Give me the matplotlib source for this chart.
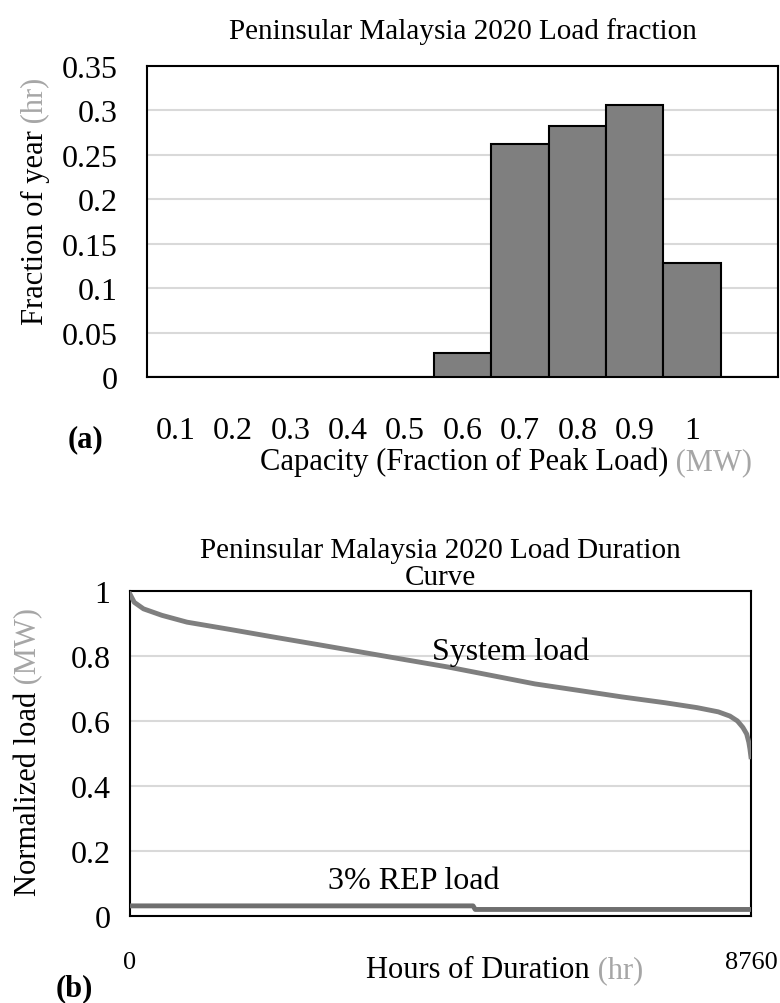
import matplotlib
matplotlib.use('Agg')
import matplotlib.pyplot as plt

plt.rcParams['font.family'] = ['Liberation Serif', 'DejaVu Serif']

# (a) load fraction histogram
capacidade = ['0.1', '0.2', '0.3', '0.4', '0.5', '0.6', '0.7', '0.8', '0.9', '1', '']
fracao_ano = [0, 0, 0, 0, 0, 0.027, 0.262, 0.283, 0.306, 0.128, 0]
y_ticks_a = [0, 0.05, 0.1, 0.15, 0.2, 0.25, 0.3, 0.35]
y_labels_a = ['0', '0.05', '0.1', '0.15', '0.2', '0.25', '0.3', '0.35']

# (b) load duration curve
horas_sistema = [0, 60, 190, 450, 804, 1400, 2031, 2650, 3259, 3870, 4486, 5100,
                 5713, 6330, 6940, 7550, 8000, 8300, 8464, 8570, 8647, 8700, 8730,
                 8746, 8760]
carga_sistema = [0.99, 0.965, 0.945, 0.925, 0.904, 0.882, 0.858, 0.835, 0.812, 0.789,
                 0.766, 0.740, 0.714, 0.694, 0.674, 0.656, 0.641, 0.628, 0.615, 0.600,
                 0.580, 0.560, 0.535, 0.514, 0.49]
horas_rep = [0, 4840, 4870, 8760]
carga_rep = [0.031, 0.031, 0.02, 0.02]
y_ticks_b = [0, 0.2, 0.4, 0.6, 0.8, 1]
y_labels_b = ['0', '0.2', '0.4', '0.6', '0.8', '1']

CINZA = '#7f7f7f'
CINZA_CLARO = '#a6a6a6'
GRADE = '#d9d9d9'

fig = plt.figure(figsize=(7.8, 10.04), dpi=100)


def label_duas_cores(fig, texto, unidade, eixo, pos, size):
    # rótulo com a unidade em cinza claro
    if eixo == 'x':
        fig.text(pos[0], pos[1], texto, ha='right', va='baseline', fontsize=size)
        fig.text(pos[0], pos[1], ' ' + unidade, ha='left', va='baseline', fontsize=size,
                 color=CINZA_CLARO)
    else:
        fig.text(pos[0], pos[1], texto, ha='center', va='top', rotation=90, fontsize=size)
        fig.text(pos[0], pos[1], ' ' + unidade, ha='center', va='bottom', rotation=90,
                 fontsize=size, color=CINZA_CLARO)


# ---------- (a) ----------
ax1 = fig.add_axes([0.1885, 0.6235, 0.809, 0.3098])
x = range(len(capacidade))
ax1.bar(x, fracao_ano, width=1.0, color=CINZA, edgecolor='black', linewidth=1.5, zorder=3)
ax1.set_xlim(-0.5, len(capacidade) - 0.5)
ax1.set_ylim(0, 0.35)
ax1.set_yticks(y_ticks_a)
ax1.set_yticklabels(y_labels_a, fontsize=23)
ax1.set_xticks(list(x))
ax1.set_xticklabels(capacidade, fontsize=23)
ax1.tick_params(axis='x', length=0, pad=28)
ax1.tick_params(axis='y', length=0, pad=21)
ax1.yaxis.grid(True, color=GRADE, linewidth=1.5, zorder=0)
ax1.set_axisbelow(True)
for s in ax1.spines.values():
    s.set_linewidth(1.5)
ax1.set_title('Peninsular Malaysia 2020 Load fraction', fontsize=21, pad=20)
label_duas_cores(fig, 'Capacity (Fraction of Peak Load)', '(MW)', 'x', (0.857, 0.532), 22)
label_duas_cores(fig, 'Fraction of year', '(hr)', 'y', (0.045, 0.870), 22)
fig.text(0.11, 0.555, '(a)', fontsize=22, fontweight='bold', ha='center')

# ---------- (b) ----------
ax2 = fig.add_axes([0.1667, 0.0867, 0.796, 0.3237])
ax2.plot(horas_sistema, carga_sistema, color=CINZA, linewidth=3.5, zorder=3)
ax2.plot(horas_rep, carga_rep, color='#6f6f6f', linewidth=3.5, zorder=3)
ax2.set_xlim(0, 8760)
ax2.set_ylim(0, 1.0)
ax2.set_yticks(y_ticks_b)
ax2.set_yticklabels(y_labels_b, fontsize=23)
ax2.set_xticks([0, 8760])
ax2.set_xticklabels(['0', '8760'], fontsize=19)
ax2.tick_params(axis='x', length=0, pad=25)
ax2.tick_params(axis='y', length=0, pad=14)
ax2.yaxis.grid(True, color=GRADE, linewidth=1.5, zorder=0)
ax2.set_axisbelow(True)
for s in ax2.spines.values():
    s.set_linewidth(1.5)
ax2.set_title('Peninsular Malaysia 2020 Load Duration\nCurve', fontsize=21, pad=5,
              linespacing=1.05)
ax2.text(5375, 0.815, 'System load', fontsize=23, ha='center', va='center', zorder=4)
ax2.text(4006, 0.11, '3% REP load', fontsize=23, ha='center', va='center', zorder=4)
label_duas_cores(fig, 'Hours of Duration', '(hr)', 'x', (0.756, 0.026), 22)
label_duas_cores(fig, 'Normalized load', '(MW)', 'y', (0.036, 0.311), 22)
fig.text(0.095, 0.008, '(b)', fontsize=22, fontweight='bold', ha='center')

fig.savefig('out.png', dpi=100)
